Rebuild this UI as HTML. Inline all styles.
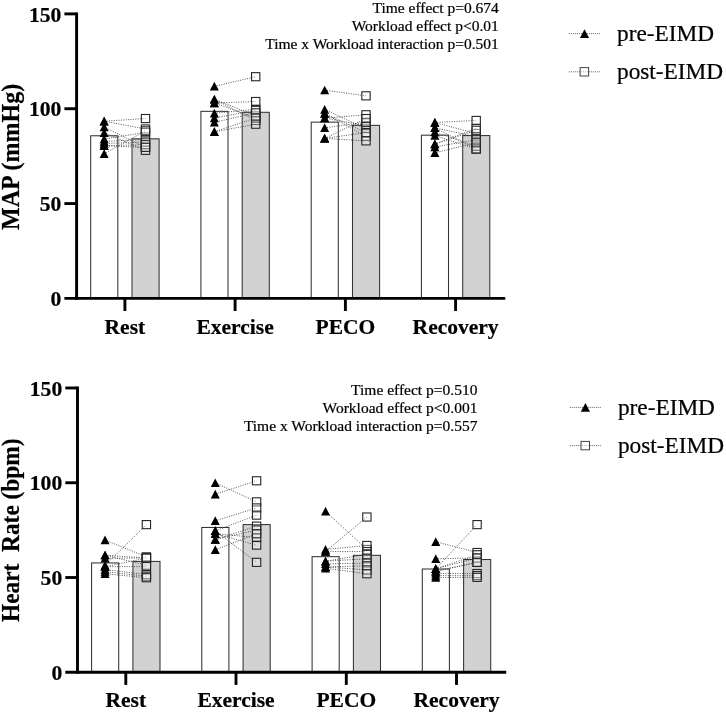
<!DOCTYPE html>
<html><head><meta charset="utf-8"><title>Figure</title>
<style>
html,body{margin:0;padding:0;background:#fff}
svg{display:block;will-change:transform;filter:grayscale(1)}
text{font-family:"Liberation Serif",serif;fill:#000;stroke:#000;stroke-width:.22px}
.b{font-weight:bold}
.r{font-weight:normal}
.dl{stroke:#444;stroke-width:0.9;stroke-dasharray:1 1.4;fill:none}
.ll{stroke:#555;stroke-width:0.9;stroke-dasharray:1 1;fill:none}
.sq{fill:rgba(255,255,255,0.3);stroke:#262626;stroke-width:1.1}
</style></head>
<body>
<svg width="726" height="714" viewBox="0 0 726 714">
<rect width="726" height="714" fill="#fff"/>
<g>
<rect x="90.70" y="135.77" width="27.10" height="162.63" fill="#fff" stroke="#333" stroke-width="1.05"/>
<rect x="132.00" y="138.80" width="27.10" height="159.60" fill="#d2d2d2" stroke="#333" stroke-width="1.05"/>
<rect x="200.90" y="111.35" width="27.10" height="187.05" fill="#fff" stroke="#333" stroke-width="1.05"/>
<rect x="242.20" y="112.30" width="27.10" height="186.10" fill="#d2d2d2" stroke="#333" stroke-width="1.05"/>
<rect x="311.20" y="122.14" width="27.10" height="176.26" fill="#fff" stroke="#333" stroke-width="1.05"/>
<rect x="352.50" y="125.36" width="27.10" height="173.04" fill="#d2d2d2" stroke="#333" stroke-width="1.05"/>
<rect x="421.40" y="135.20" width="27.10" height="163.20" fill="#fff" stroke="#333" stroke-width="1.05"/>
<rect x="462.70" y="135.58" width="27.10" height="162.82" fill="#d2d2d2" stroke="#333" stroke-width="1.05"/>
<path d="M76.60 12.44V299.85" stroke="#000" stroke-width="2.9" fill="none"/>
<path d="M64.40 298.40H505.30" stroke="#000" stroke-width="2.9" fill="none"/>
<path d="M64.40 203.56H76.60" stroke="#000" stroke-width="2.9" fill="none"/>
<path d="M64.40 108.73H76.60" stroke="#000" stroke-width="2.9" fill="none"/>
<path d="M64.40 13.89H76.60" stroke="#000" stroke-width="2.9" fill="none"/>
<text x="61.30" y="306.10" text-anchor="end" class="b" font-size="21.6">0</text>
<text x="61.30" y="211.26" text-anchor="end" class="b" font-size="21.6">50</text>
<text x="61.30" y="116.43" text-anchor="end" class="b" font-size="21.6">100</text>
<text x="61.30" y="21.59" text-anchor="end" class="b" font-size="21.6">150</text>
<path d="M124.90 298.40V311.00" stroke="#000" stroke-width="2.9" fill="none"/>
<text x="124.90" y="333.50" text-anchor="middle" class="b" font-size="21.5">Rest</text>
<path d="M235.10 298.40V311.00" stroke="#000" stroke-width="2.9" fill="none"/>
<text x="235.10" y="333.50" text-anchor="middle" class="b" font-size="21.5">Exercise</text>
<path d="M345.40 298.40V311.00" stroke="#000" stroke-width="2.9" fill="none"/>
<text x="345.40" y="333.50" text-anchor="middle" class="b" font-size="21.5">PECO</text>
<path d="M455.60 298.40V311.00" stroke="#000" stroke-width="2.9" fill="none"/>
<text x="455.60" y="333.50" text-anchor="middle" class="b" font-size="21.5">Recovery</text>
<text transform="translate(18.75 156.90) rotate(-90) scale(0.973 1)" text-anchor="middle" class="b" font-size="24.7" xml:space="preserve">MAP (mmHg)</text>
<text x="498.80" y="12.80" text-anchor="end" class="r" font-size="15.5">Time effect p=0.674</text>
<text x="498.80" y="30.90" text-anchor="end" class="r" font-size="15.5">Workload effect p&lt;0.01</text>
<text x="498.80" y="49.00" text-anchor="end" class="r" font-size="15.5">Time x Workload interaction p=0.501</text>
<path d="M104.15 121.19L145.45 118.54" class="dl"/>
<path d="M104.15 121.19L145.45 128.96" class="dl"/>
<path d="M104.15 127.06L145.45 147.32" class="dl"/>
<path d="M104.15 132.74L145.45 150.35" class="dl"/>
<path d="M104.15 138.99L145.45 132.36" class="dl"/>
<path d="M104.15 141.45L145.45 139.37" class="dl"/>
<path d="M104.15 143.53L145.45 142.02" class="dl"/>
<path d="M104.15 145.80L145.45 144.67" class="dl"/>
<path d="M104.15 145.80L145.45 147.32" class="dl"/>
<path d="M104.15 153.75L145.45 130.85" class="dl"/>
<path d="M214.35 86.36L255.65 76.71" class="dl"/>
<path d="M214.35 103.02L255.65 101.51" class="dl"/>
<path d="M214.35 99.42L255.65 115.51" class="dl"/>
<path d="M214.35 103.02L255.65 117.98" class="dl"/>
<path d="M214.35 99.42L255.65 120.44" class="dl"/>
<path d="M214.35 113.24L255.65 109.27" class="dl"/>
<path d="M214.35 117.98L255.65 110.40" class="dl"/>
<path d="M214.35 122.33L255.65 112.86" class="dl"/>
<path d="M214.35 131.79L255.65 117.98" class="dl"/>
<path d="M214.35 131.79L255.65 124.22" class="dl"/>
<path d="M324.65 90.15L365.95 95.83" class="dl"/>
<path d="M324.65 118.16L365.95 114.76" class="dl"/>
<path d="M324.65 109.46L365.95 128.77" class="dl"/>
<path d="M324.65 113.62L365.95 132.55" class="dl"/>
<path d="M324.65 113.62L365.95 136.34" class="dl"/>
<path d="M324.65 118.16L365.95 125.55" class="dl"/>
<path d="M324.65 127.82L365.95 122.33" class="dl"/>
<path d="M324.65 138.42L365.95 118.54" class="dl"/>
<path d="M324.65 138.42L365.95 132.55" class="dl"/>
<path d="M324.65 138.42L365.95 140.88" class="dl"/>
<path d="M434.85 122.52L476.15 120.44" class="dl"/>
<path d="M434.85 122.52L476.15 133.50" class="dl"/>
<path d="M434.85 127.82L476.15 136.72" class="dl"/>
<path d="M434.85 127.82L476.15 149.02" class="dl"/>
<path d="M434.85 132.17L476.15 146.18" class="dl"/>
<path d="M434.85 135.58L476.15 149.02" class="dl"/>
<path d="M434.85 144.10L476.15 128.39" class="dl"/>
<path d="M434.85 144.10L476.15 130.28" class="dl"/>
<path d="M434.85 146.94L476.15 139.75" class="dl"/>
<path d="M434.85 152.81L476.15 142.77" class="dl"/>
<path d="M104.15 116.69L108.65 125.39H99.65Z" fill="#000"/>
<path d="M104.15 116.69L108.65 125.39H99.65Z" fill="#000"/>
<path d="M104.15 122.56L108.65 131.26H99.65Z" fill="#000"/>
<path d="M104.15 128.24L108.65 136.94H99.65Z" fill="#000"/>
<path d="M104.15 134.49L108.65 143.19H99.65Z" fill="#000"/>
<path d="M104.15 136.95L108.65 145.65H99.65Z" fill="#000"/>
<path d="M104.15 139.03L108.65 147.73H99.65Z" fill="#000"/>
<path d="M104.15 141.30L108.65 150.00H99.65Z" fill="#000"/>
<path d="M104.15 141.30L108.65 150.00H99.65Z" fill="#000"/>
<path d="M104.15 149.25L108.65 157.95H99.65Z" fill="#000"/>
<rect x="141.35" y="114.49" width="8.3" height="8.1" class="sq"/>
<rect x="141.35" y="124.91" width="8.3" height="8.1" class="sq"/>
<rect x="141.35" y="143.27" width="8.3" height="8.1" class="sq"/>
<rect x="141.35" y="146.30" width="8.3" height="8.1" class="sq"/>
<rect x="141.35" y="128.31" width="8.3" height="8.1" class="sq"/>
<rect x="141.35" y="135.32" width="8.3" height="8.1" class="sq"/>
<rect x="141.35" y="137.97" width="8.3" height="8.1" class="sq"/>
<rect x="141.35" y="140.62" width="8.3" height="8.1" class="sq"/>
<rect x="141.35" y="143.27" width="8.3" height="8.1" class="sq"/>
<rect x="141.35" y="126.80" width="8.3" height="8.1" class="sq"/>
<path d="M214.35 81.86L218.85 90.56H209.85Z" fill="#000"/>
<path d="M214.35 98.52L218.85 107.22H209.85Z" fill="#000"/>
<path d="M214.35 94.92L218.85 103.62H209.85Z" fill="#000"/>
<path d="M214.35 98.52L218.85 107.22H209.85Z" fill="#000"/>
<path d="M214.35 94.92L218.85 103.62H209.85Z" fill="#000"/>
<path d="M214.35 108.74L218.85 117.44H209.85Z" fill="#000"/>
<path d="M214.35 113.48L218.85 122.18H209.85Z" fill="#000"/>
<path d="M214.35 117.83L218.85 126.53H209.85Z" fill="#000"/>
<path d="M214.35 127.29L218.85 135.99H209.85Z" fill="#000"/>
<path d="M214.35 127.29L218.85 135.99H209.85Z" fill="#000"/>
<rect x="251.55" y="72.66" width="8.3" height="8.1" class="sq"/>
<rect x="251.55" y="97.46" width="8.3" height="8.1" class="sq"/>
<rect x="251.55" y="111.46" width="8.3" height="8.1" class="sq"/>
<rect x="251.55" y="113.93" width="8.3" height="8.1" class="sq"/>
<rect x="251.55" y="116.39" width="8.3" height="8.1" class="sq"/>
<rect x="251.55" y="105.22" width="8.3" height="8.1" class="sq"/>
<rect x="251.55" y="106.35" width="8.3" height="8.1" class="sq"/>
<rect x="251.55" y="108.81" width="8.3" height="8.1" class="sq"/>
<rect x="251.55" y="113.93" width="8.3" height="8.1" class="sq"/>
<rect x="251.55" y="120.17" width="8.3" height="8.1" class="sq"/>
<path d="M324.65 85.65L329.15 94.35H320.15Z" fill="#000"/>
<path d="M324.65 113.66L329.15 122.36H320.15Z" fill="#000"/>
<path d="M324.65 104.96L329.15 113.66H320.15Z" fill="#000"/>
<path d="M324.65 109.12L329.15 117.82H320.15Z" fill="#000"/>
<path d="M324.65 109.12L329.15 117.82H320.15Z" fill="#000"/>
<path d="M324.65 113.66L329.15 122.36H320.15Z" fill="#000"/>
<path d="M324.65 123.32L329.15 132.02H320.15Z" fill="#000"/>
<path d="M324.65 133.92L329.15 142.62H320.15Z" fill="#000"/>
<path d="M324.65 133.92L329.15 142.62H320.15Z" fill="#000"/>
<path d="M324.65 133.92L329.15 142.62H320.15Z" fill="#000"/>
<rect x="361.85" y="91.78" width="8.3" height="8.1" class="sq"/>
<rect x="361.85" y="110.71" width="8.3" height="8.1" class="sq"/>
<rect x="361.85" y="124.72" width="8.3" height="8.1" class="sq"/>
<rect x="361.85" y="128.50" width="8.3" height="8.1" class="sq"/>
<rect x="361.85" y="132.29" width="8.3" height="8.1" class="sq"/>
<rect x="361.85" y="121.50" width="8.3" height="8.1" class="sq"/>
<rect x="361.85" y="118.28" width="8.3" height="8.1" class="sq"/>
<rect x="361.85" y="114.49" width="8.3" height="8.1" class="sq"/>
<rect x="361.85" y="128.50" width="8.3" height="8.1" class="sq"/>
<rect x="361.85" y="136.83" width="8.3" height="8.1" class="sq"/>
<path d="M434.85 118.02L439.35 126.72H430.35Z" fill="#000"/>
<path d="M434.85 118.02L439.35 126.72H430.35Z" fill="#000"/>
<path d="M434.85 123.32L439.35 132.02H430.35Z" fill="#000"/>
<path d="M434.85 123.32L439.35 132.02H430.35Z" fill="#000"/>
<path d="M434.85 127.67L439.35 136.37H430.35Z" fill="#000"/>
<path d="M434.85 131.08L439.35 139.78H430.35Z" fill="#000"/>
<path d="M434.85 139.60L439.35 148.30H430.35Z" fill="#000"/>
<path d="M434.85 139.60L439.35 148.30H430.35Z" fill="#000"/>
<path d="M434.85 142.44L439.35 151.14H430.35Z" fill="#000"/>
<path d="M434.85 148.31L439.35 157.01H430.35Z" fill="#000"/>
<rect x="472.05" y="116.39" width="8.3" height="8.1" class="sq"/>
<rect x="472.05" y="129.45" width="8.3" height="8.1" class="sq"/>
<rect x="472.05" y="132.67" width="8.3" height="8.1" class="sq"/>
<rect x="472.05" y="144.97" width="8.3" height="8.1" class="sq"/>
<rect x="472.05" y="142.13" width="8.3" height="8.1" class="sq"/>
<rect x="472.05" y="144.97" width="8.3" height="8.1" class="sq"/>
<rect x="472.05" y="124.34" width="8.3" height="8.1" class="sq"/>
<rect x="472.05" y="126.23" width="8.3" height="8.1" class="sq"/>
<rect x="472.05" y="135.70" width="8.3" height="8.1" class="sq"/>
<rect x="472.05" y="138.72" width="8.3" height="8.1" class="sq"/>
<path d="M568.90 33.60H599.90" class="ll"/>
<path d="M568.90 71.80H599.90" class="ll"/>
<path d="M584.50 29.30L589.10 37.90H579.90Z" fill="#000"/>
<rect x="580.10" y="67.60" width="8.5" height="8.4" fill="rgba(255,255,255,0.5)" stroke="#444" stroke-width="1"/>
<text x="617.00" y="41.20" class="r" font-size="23.3">pre-EIMD</text>
<text x="617.00" y="79.40" class="r" font-size="23.3">post-EIMD</text>
</g>
<g>
<rect x="91.60" y="562.93" width="27.10" height="109.37" fill="#fff" stroke="#333" stroke-width="1.05"/>
<rect x="132.90" y="561.42" width="27.10" height="110.88" fill="#d2d2d2" stroke="#333" stroke-width="1.05"/>
<rect x="201.80" y="527.46" width="27.10" height="144.84" fill="#fff" stroke="#333" stroke-width="1.05"/>
<rect x="243.10" y="524.61" width="27.10" height="147.69" fill="#d2d2d2" stroke="#333" stroke-width="1.05"/>
<rect x="312.10" y="556.67" width="27.10" height="115.63" fill="#fff" stroke="#333" stroke-width="1.05"/>
<rect x="353.40" y="555.34" width="27.10" height="116.96" fill="#d2d2d2" stroke="#333" stroke-width="1.05"/>
<rect x="422.30" y="569.00" width="27.10" height="103.30" fill="#fff" stroke="#333" stroke-width="1.05"/>
<rect x="463.60" y="559.52" width="27.10" height="112.78" fill="#d2d2d2" stroke="#333" stroke-width="1.05"/>
<path d="M77.50 386.52V673.75" stroke="#000" stroke-width="2.9" fill="none"/>
<path d="M65.30 672.30H506.20" stroke="#000" stroke-width="2.9" fill="none"/>
<path d="M65.30 577.52H77.50" stroke="#000" stroke-width="2.9" fill="none"/>
<path d="M65.30 482.75H77.50" stroke="#000" stroke-width="2.9" fill="none"/>
<path d="M65.30 387.97H77.50" stroke="#000" stroke-width="2.9" fill="none"/>
<text x="62.20" y="680.00" text-anchor="end" class="b" font-size="21.6">0</text>
<text x="62.20" y="585.23" text-anchor="end" class="b" font-size="21.6">50</text>
<text x="62.20" y="490.45" text-anchor="end" class="b" font-size="21.6">100</text>
<text x="62.20" y="395.67" text-anchor="end" class="b" font-size="21.6">150</text>
<path d="M125.80 672.30V684.90" stroke="#000" stroke-width="2.9" fill="none"/>
<text x="125.80" y="707.40" text-anchor="middle" class="b" font-size="21.5">Rest</text>
<path d="M236.00 672.30V684.90" stroke="#000" stroke-width="2.9" fill="none"/>
<text x="236.00" y="707.40" text-anchor="middle" class="b" font-size="21.5">Exercise</text>
<path d="M346.30 672.30V684.90" stroke="#000" stroke-width="2.9" fill="none"/>
<text x="346.30" y="707.40" text-anchor="middle" class="b" font-size="21.5">PECO</text>
<path d="M456.50 672.30V684.90" stroke="#000" stroke-width="2.9" fill="none"/>
<text x="456.50" y="707.40" text-anchor="middle" class="b" font-size="21.5">Recovery</text>
<text transform="translate(18.70 530.20) rotate(-90) scale(0.942 1)" text-anchor="middle" class="b" font-size="24.8" xml:space="preserve">Heart  Rate (bpm)</text>
<text x="477.40" y="394.70" text-anchor="end" class="r" font-size="15.5">Time effect p=0.510</text>
<text x="477.40" y="412.80" text-anchor="end" class="r" font-size="15.5">Workload effect p&lt;0.001</text>
<text x="477.40" y="430.90" text-anchor="end" class="r" font-size="15.5">Time x Workload interaction p=0.557</text>
<path d="M105.05 565.40L146.35 524.61" class="dl"/>
<path d="M105.05 539.98L146.35 556.86" class="dl"/>
<path d="M105.05 555.16L146.35 558.00" class="dl"/>
<path d="M105.05 558.19L146.35 558.00" class="dl"/>
<path d="M105.05 555.16L146.35 565.21" class="dl"/>
<path d="M105.05 566.73L146.35 558.00" class="dl"/>
<path d="M105.05 566.73L146.35 566.54" class="dl"/>
<path d="M105.05 569.57L146.35 574.50" class="dl"/>
<path d="M105.05 571.66L146.35 576.21" class="dl"/>
<path d="M105.05 573.75L146.35 577.73" class="dl"/>
<path d="M215.25 482.88L256.55 501.85" class="dl"/>
<path d="M215.25 494.26L256.55 480.79" class="dl"/>
<path d="M215.25 520.82L256.55 507.92" class="dl"/>
<path d="M215.25 530.87L256.55 515.13" class="dl"/>
<path d="M215.25 530.87L256.55 562.36" class="dl"/>
<path d="M215.25 533.72L256.55 545.10" class="dl"/>
<path d="M215.25 533.72L256.55 537.51" class="dl"/>
<path d="M215.25 539.60L256.55 526.13" class="dl"/>
<path d="M215.25 539.60L256.55 529.93" class="dl"/>
<path d="M215.25 549.84L256.55 533.72" class="dl"/>
<path d="M325.55 511.33L366.85 549.46" class="dl"/>
<path d="M325.55 551.55L366.85 517.03" class="dl"/>
<path d="M325.55 549.46L366.85 545.48" class="dl"/>
<path d="M325.55 551.55L366.85 551.55" class="dl"/>
<path d="M325.55 561.23L366.85 554.40" class="dl"/>
<path d="M325.55 561.23L366.85 558.76" class="dl"/>
<path d="M325.55 563.88L366.85 563.12" class="dl"/>
<path d="M325.55 566.92L366.85 565.78" class="dl"/>
<path d="M325.55 566.92L366.85 569.95" class="dl"/>
<path d="M325.55 568.24L366.85 573.75" class="dl"/>
<path d="M435.75 568.81L477.05 524.61" class="dl"/>
<path d="M435.75 541.69L477.05 552.50" class="dl"/>
<path d="M435.75 558.76L477.05 558.00" class="dl"/>
<path d="M435.75 568.81L477.05 554.78" class="dl"/>
<path d="M435.75 568.81L477.05 558.00" class="dl"/>
<path d="M435.75 571.28L477.05 562.36" class="dl"/>
<path d="M435.75 571.28L477.05 562.36" class="dl"/>
<path d="M435.75 573.37L477.05 573.56" class="dl"/>
<path d="M435.75 575.64L477.05 575.64" class="dl"/>
<path d="M435.75 577.54L477.05 577.35" class="dl"/>
<path d="M105.05 560.90L109.55 569.60H100.55Z" fill="#000"/>
<path d="M105.05 535.48L109.55 544.18H100.55Z" fill="#000"/>
<path d="M105.05 550.66L109.55 559.36H100.55Z" fill="#000"/>
<path d="M105.05 553.69L109.55 562.39H100.55Z" fill="#000"/>
<path d="M105.05 550.66L109.55 559.36H100.55Z" fill="#000"/>
<path d="M105.05 562.23L109.55 570.93H100.55Z" fill="#000"/>
<path d="M105.05 562.23L109.55 570.93H100.55Z" fill="#000"/>
<path d="M105.05 565.07L109.55 573.77H100.55Z" fill="#000"/>
<path d="M105.05 567.16L109.55 575.86H100.55Z" fill="#000"/>
<path d="M105.05 569.25L109.55 577.95H100.55Z" fill="#000"/>
<rect x="142.25" y="520.56" width="8.3" height="8.1" class="sq"/>
<rect x="142.25" y="552.81" width="8.3" height="8.1" class="sq"/>
<rect x="142.25" y="553.95" width="8.3" height="8.1" class="sq"/>
<rect x="142.25" y="553.95" width="8.3" height="8.1" class="sq"/>
<rect x="142.25" y="561.16" width="8.3" height="8.1" class="sq"/>
<rect x="142.25" y="553.95" width="8.3" height="8.1" class="sq"/>
<rect x="142.25" y="562.49" width="8.3" height="8.1" class="sq"/>
<rect x="142.25" y="570.45" width="8.3" height="8.1" class="sq"/>
<rect x="142.25" y="572.16" width="8.3" height="8.1" class="sq"/>
<rect x="142.25" y="573.68" width="8.3" height="8.1" class="sq"/>
<path d="M215.25 478.38L219.75 487.08H210.75Z" fill="#000"/>
<path d="M215.25 489.76L219.75 498.46H210.75Z" fill="#000"/>
<path d="M215.25 516.32L219.75 525.02H210.75Z" fill="#000"/>
<path d="M215.25 526.37L219.75 535.07H210.75Z" fill="#000"/>
<path d="M215.25 526.37L219.75 535.07H210.75Z" fill="#000"/>
<path d="M215.25 529.22L219.75 537.92H210.75Z" fill="#000"/>
<path d="M215.25 529.22L219.75 537.92H210.75Z" fill="#000"/>
<path d="M215.25 535.10L219.75 543.80H210.75Z" fill="#000"/>
<path d="M215.25 535.10L219.75 543.80H210.75Z" fill="#000"/>
<path d="M215.25 545.34L219.75 554.04H210.75Z" fill="#000"/>
<rect x="252.45" y="497.80" width="8.3" height="8.1" class="sq"/>
<rect x="252.45" y="476.74" width="8.3" height="8.1" class="sq"/>
<rect x="252.45" y="503.87" width="8.3" height="8.1" class="sq"/>
<rect x="252.45" y="511.08" width="8.3" height="8.1" class="sq"/>
<rect x="252.45" y="558.31" width="8.3" height="8.1" class="sq"/>
<rect x="252.45" y="541.05" width="8.3" height="8.1" class="sq"/>
<rect x="252.45" y="533.46" width="8.3" height="8.1" class="sq"/>
<rect x="252.45" y="522.08" width="8.3" height="8.1" class="sq"/>
<rect x="252.45" y="525.88" width="8.3" height="8.1" class="sq"/>
<rect x="252.45" y="529.67" width="8.3" height="8.1" class="sq"/>
<path d="M325.55 506.83L330.05 515.53H321.05Z" fill="#000"/>
<path d="M325.55 547.05L330.05 555.75H321.05Z" fill="#000"/>
<path d="M325.55 544.96L330.05 553.66H321.05Z" fill="#000"/>
<path d="M325.55 547.05L330.05 555.75H321.05Z" fill="#000"/>
<path d="M325.55 556.73L330.05 565.43H321.05Z" fill="#000"/>
<path d="M325.55 556.73L330.05 565.43H321.05Z" fill="#000"/>
<path d="M325.55 559.38L330.05 568.08H321.05Z" fill="#000"/>
<path d="M325.55 562.42L330.05 571.12H321.05Z" fill="#000"/>
<path d="M325.55 562.42L330.05 571.12H321.05Z" fill="#000"/>
<path d="M325.55 563.74L330.05 572.44H321.05Z" fill="#000"/>
<rect x="362.75" y="545.41" width="8.3" height="8.1" class="sq"/>
<rect x="362.75" y="512.98" width="8.3" height="8.1" class="sq"/>
<rect x="362.75" y="541.43" width="8.3" height="8.1" class="sq"/>
<rect x="362.75" y="547.50" width="8.3" height="8.1" class="sq"/>
<rect x="362.75" y="550.35" width="8.3" height="8.1" class="sq"/>
<rect x="362.75" y="554.71" width="8.3" height="8.1" class="sq"/>
<rect x="362.75" y="559.07" width="8.3" height="8.1" class="sq"/>
<rect x="362.75" y="561.73" width="8.3" height="8.1" class="sq"/>
<rect x="362.75" y="565.90" width="8.3" height="8.1" class="sq"/>
<rect x="362.75" y="569.70" width="8.3" height="8.1" class="sq"/>
<path d="M435.75 564.31L440.25 573.01H431.25Z" fill="#000"/>
<path d="M435.75 537.19L440.25 545.89H431.25Z" fill="#000"/>
<path d="M435.75 554.26L440.25 562.96H431.25Z" fill="#000"/>
<path d="M435.75 564.31L440.25 573.01H431.25Z" fill="#000"/>
<path d="M435.75 564.31L440.25 573.01H431.25Z" fill="#000"/>
<path d="M435.75 566.78L440.25 575.48H431.25Z" fill="#000"/>
<path d="M435.75 566.78L440.25 575.48H431.25Z" fill="#000"/>
<path d="M435.75 568.87L440.25 577.57H431.25Z" fill="#000"/>
<path d="M435.75 571.14L440.25 579.84H431.25Z" fill="#000"/>
<path d="M435.75 573.04L440.25 581.74H431.25Z" fill="#000"/>
<rect x="472.95" y="520.56" width="8.3" height="8.1" class="sq"/>
<rect x="472.95" y="548.45" width="8.3" height="8.1" class="sq"/>
<rect x="472.95" y="553.95" width="8.3" height="8.1" class="sq"/>
<rect x="472.95" y="550.73" width="8.3" height="8.1" class="sq"/>
<rect x="472.95" y="553.95" width="8.3" height="8.1" class="sq"/>
<rect x="472.95" y="558.31" width="8.3" height="8.1" class="sq"/>
<rect x="472.95" y="558.31" width="8.3" height="8.1" class="sq"/>
<rect x="472.95" y="569.51" width="8.3" height="8.1" class="sq"/>
<rect x="472.95" y="571.59" width="8.3" height="8.1" class="sq"/>
<rect x="472.95" y="573.30" width="8.3" height="8.1" class="sq"/>
<path d="M569.80 407.40H600.80" class="ll"/>
<path d="M569.80 445.60H600.80" class="ll"/>
<path d="M585.40 403.10L590.00 411.70H580.80Z" fill="#000"/>
<rect x="581.00" y="441.40" width="8.5" height="8.4" fill="rgba(255,255,255,0.5)" stroke="#444" stroke-width="1"/>
<text x="617.90" y="415.00" class="r" font-size="23.3">pre-EIMD</text>
<text x="617.90" y="453.20" class="r" font-size="23.3">post-EIMD</text>
</g>
</svg>
</body></html>
